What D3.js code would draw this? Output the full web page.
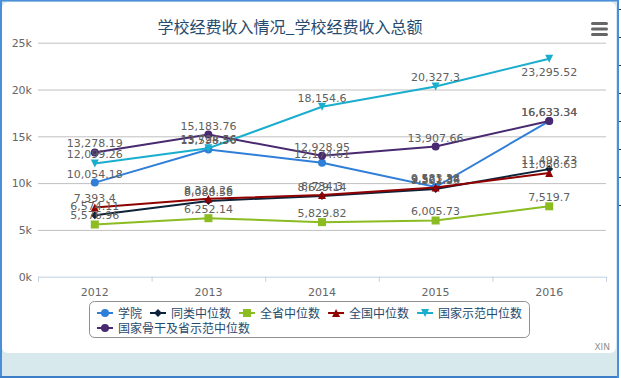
<!DOCTYPE html>
<html>
<head>
<meta charset="utf-8">
<script src="https://cdn.jsdelivr.net/npm/d3@7/dist/d3.min.js"></script>
<style>
  body { margin: 0; background: #fff; }
  svg { display: block; }
  text { font-family: "DejaVu Sans", "Noto Sans CJK SC", sans-serif; }
</style>
</head>
<body>
<div id="chart"></div>
<script>
const years = ["2012", "2013", "2014", "2015", "2016"];
const seriesNames = ["学院", "同类中位数", "全省中位数", "全国中位数", "国家示范中位数", "国家骨干及省示范中位数"];
const xueyuan = [10054.18, 13598.56, 12174.61, 9583.38, 16633.34];
const tonglei = [6574.11, 8088.58, 8629.14, 9361.36, 11493.73];
const quansheng = [5576.96, 6252.14, 5829.82, 6005.73, 7519.7];
const quanguo = [7393.4, 8324.26, 8734.3, 9521.34, 11086.63];
const shifan = [12099.26, 13724.56, 18154.6, 20327.3, 23295.52];
const gugan = [13278.19, 15183.76, 12928.95, 13907.66, 16633.34];
const yTicks = [0, 5000, 10000, 15000, 20000, 25000];

const colors = ["#2f7ed8", "#0d233a", "#8bbc21", "#910000", "#1aadce", "#492970"];
const symbols = ["circle", "diamond", "square", "triangle", "triangle-down", "circle"];
const values = [xueyuan, tonglei, quansheng, quanguo, shifan, gugan];

const W = 621, H = 378;
const plot = {left: 38, right: 606, top: 42.7, bottom: 276.7};

const svg = d3.select("#chart").append("svg")
  .attr("width", W).attr("height", H);

// window frame
svg.append("rect").attr("width", W).attr("height", H).attr("fill", "#d8e9ee");
svg.append("rect").attr("x", 2).attr("y", 2).attr("width", 614).attr("height", 351)
  .attr("rx", 6).attr("fill", "#fff");
svg.append("rect").attr("x", 0).attr("y", 0).attr("width", W).attr("height", 1.5).attr("fill", "#4a90d9");
svg.append("rect").attr("x", 0).attr("y", 0).attr("width", 2).attr("height", H).attr("fill", "#4a90d9");
svg.append("rect").attr("x", 0).attr("y", 376).attr("width", W).attr("height", 2).attr("fill", "#3c7fc8");
svg.append("rect").attr("x", 617).attr("y", 0).attr("width", 2).attr("height", H).attr("fill", "#4a90d9");
svg.append("rect").attr("x", 619).attr("y", 0).attr("width", 2).attr("height", H).attr("fill", "#fff");
d3.range(8).forEach(i => {
  svg.append("rect").attr("x", 619).attr("y", 9 + i * 28).attr("width", 2).attr("height", 1).attr("fill", "#333");
});

const x = d3.scaleBand().domain(years).range([plot.left, plot.right]);
const y = d3.scaleLinear().domain([0, 25000]).range([plot.bottom, plot.top]);
const cx = d => x(d) + x.bandwidth() / 2;

// title
svg.append("text")
  .attr("x", 290).attr("y", 33)
  .attr("text-anchor", "middle")
  .attr("fill", "#274b6d")
  .style("font-size", "16px")
  .style("font-family", "'Noto Sans CJK SC', sans-serif")
  .text("学校经费收入情况_学校经费收入总额");

// menu icon
[23.5, 29, 34.5].forEach(yy => {
  svg.append("rect").attr("x", 591).attr("y", yy - 1.5).attr("width", 17).attr("height", 3)
    .attr("rx", 1.5).attr("fill", "#666");
});

// grid
const yAxis = svg.append("g")
  .attr("transform", "translate(" + plot.left + ",0)")
  .call(d3.axisLeft(y).tickValues(yTicks)
    .tickSize(-(plot.right - plot.left))
    .tickFormat(d => (d / 1000) + "k"));
yAxis.select(".domain").remove();
yAxis.selectAll(".tick line").attr("stroke", "#c0c0c0").attr("stroke-width", 1);
yAxis.selectAll(".tick").filter(d => d === 0).select("line").remove();
yAxis.selectAll(".tick text")
  .attr("x", -6).attr("dy", "0.35em")
  .attr("fill", "#666").style("font-size", "11px");

const xAxis = svg.append("g")
  .attr("transform", "translate(0," + plot.bottom + ")")
  .call(d3.axisBottom(x).tickSize(0));
xAxis.select(".domain").attr("stroke", "#c0d0e0").attr("d", "M" + plot.left + ",0.5H" + plot.right);
xAxis.selectAll(".tick text").attr("y", 12).attr("dy", "0.71em")
  .attr("fill", "#666").style("font-size", "11px");
const edges = years.map(d => x(d)).concat([plot.right]);
xAxis.selectAll(".xtick").data(edges).enter().append("line")
  .attr("x1", d => d + 0.5).attr("x2", d => d + 0.5)
  .attr("y1", 0).attr("y2", 5).attr("stroke", "#c0d0e0");

function marker(g, type, px, py, color, r) {
  let s;
  if (type === "circle") {
    s = g.append("circle").attr("cx", px).attr("cy", py).attr("r", r);
  } else if (type === "square") {
    s = g.append("rect").attr("x", px - r).attr("y", py - r).attr("width", 2 * r).attr("height", 2 * r);
  } else {
    let pts;
    if (type === "diamond") pts = [[px, py - r], [px + r, py], [px, py + r], [px - r, py]];
    else if (type === "triangle") pts = [[px, py - r], [px + r, py + r], [px - r, py + r]];
    else pts = [[px - r, py - r], [px + r, py - r], [px, py + r]];
    s = g.append("path").attr("d", "M" + pts.join("L") + "Z");
  }
  s.attr("fill", color);
}

const line = d3.line().x((d, i) => cx(years[i])).y(d => y(d));

values.forEach((vals, si) => {
  const g = svg.append("g");
  g.append("path").attr("d", line(vals))
    .attr("fill", "none").attr("stroke", colors[si]).attr("stroke-width", 2);
  vals.forEach((v, i) => marker(g, symbols[si], cx(years[i]), y(v), colors[si], 4));
});

// data labels
const fmt = d3.format(",");
const labels = svg.append("g");
values.forEach((vals, si) => {
  vals.forEach((v, i) => {
    const py = y(v);
    const below = py - 16 < plot.top;
    labels.append("text")
      .attr("x", cx(years[i]))
      .attr("y", below ? py + 17 : py - 5)
      .attr("text-anchor", "middle")
      .attr("fill", "#606060")
      .style("font-size", "11px")
      .text(fmt(v));
  });
});

// legend
const legend = svg.append("g");
legend.append("rect").attr("x", 89.5).attr("y", 301.5).attr("width", 440).attr("height", 36)
  .attr("rx", 5).attr("fill", "none").attr("stroke", "#909090");
let lx = 97;
seriesNames.forEach((name, si) => {
  let ly = 313;
  if (si === 5) { lx = 97; ly = 328; }
  const it = legend.append("g");
  it.append("line").attr("x1", lx).attr("x2", lx + 16).attr("y1", ly).attr("y2", ly)
    .attr("stroke", colors[si]).attr("stroke-width", 2);
  marker(it, symbols[si], lx + 8, ly, colors[si], 4);
  const t = it.append("text").attr("x", lx + 21).attr("y", ly + 4.5)
    .attr("fill", "#274b6d")
    .style("font-size", "12px")
    .style("font-family", "'Noto Sans CJK SC', sans-serif")
    .text(name);
  lx = lx + 21 + t.node().getComputedTextLength() + 8;
});

// credit
svg.append("text").attr("x", 610).attr("y", 350).attr("text-anchor", "end")
  .attr("fill", "#909090").style("font-size", "9px").text("XIN");
</script>
</body>
</html>
